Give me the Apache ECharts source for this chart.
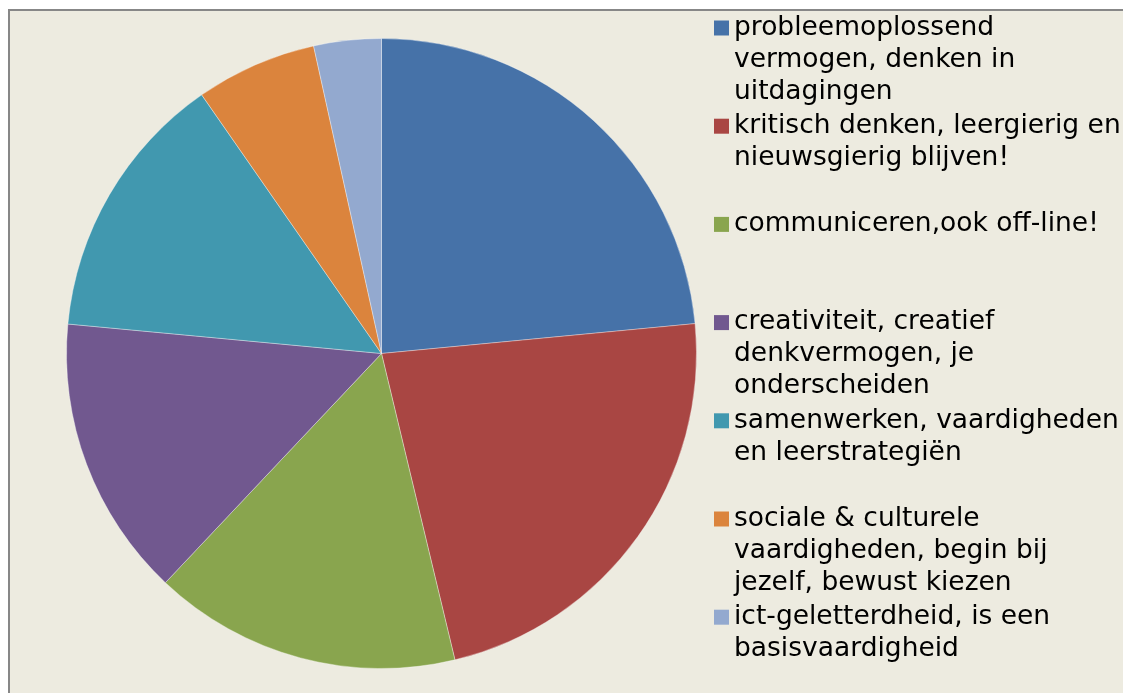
<!DOCTYPE html>
<html>
<head>
<meta charset="utf-8">
<script src="https://cdn.jsdelivr.net/npm/echarts@6/dist/echarts.min.js"></script>
<style>
html,body{margin:0;padding:0;background:#ffffff;}
#chart{width:1123px;height:693px;}
</style>
</head>
<body>
<div id="chart"></div>
<script>
// Data
var categories = [
  "probleemoplossend vermogen, denken in uitdagingen",
  "kritisch denken, leergierig en nieuwsgierig blijven!",
  "communiceren,ook off-line!",
  "creativiteit, creatief denkvermogen, je onderscheiden",
  "samenwerken, vaardigheden en leerstrategiën",
  "sociale & culturele vaardigheden, begin bij jezelf, bewust kiezen",
  "ict-geletterdheid, is een basisvaardigheid"
];
var legendLines = [
  ["probleemoplossend", "vermogen, denken in", "uitdagingen"],
  ["kritisch denken, leergierig en", "nieuwsgierig blijven!"],
  ["communiceren,ook off-line!"],
  ["creativiteit, creatief", "denkvermogen, je", "onderscheiden"],
  ["samenwerken, vaardigheden", "en leerstrategiën"],
  ["sociale & culturele", "vaardigheden, begin bij", "jezelf, bewust kiezen"],
  ["ict-geletterdheid, is een", "basisvaardigheid"]
];
var values = [23.49, 22.77, 15.78, 14.46, 13.84, 6.21, 3.46];
var colors = ["#4672A8", "#A94643", "#89A54E", "#71588F", "#4198AF", "#DB843D", "#93A9CF"];

var FONT = "DejaVu Sans";
var FS = 26.5;
var LH = 32;
var firstCenter = 28;
var step = 98.2;

var legends = categories.map(function (name, i) {
  var n = legendLines[i].length;
  var c = firstCenter + i * step;
  var pad = [];
  for (var k = 0; k < n - 1; k++) pad.push(' ');
  return {
    show: true,
    orient: 'vertical',
    left: 714,
    top: c - (2 * n - 1) * LH / 2,
    padding: 0,
    itemWidth: 15,
    itemHeight: 15,
    itemGap: 0,
    icon: 'rect',
    selectedMode: false,
    data: [name],
    itemStyle: { borderWidth: 0 },
    formatter: function () { return pad.concat(legendLines[i]).join('\n'); },
    textStyle: {
      fontFamily: FONT,
      fontSize: FS,
      lineHeight: LH,
      color: '#000000'
    }
  };
});

var chart = echarts.init(document.getElementById('chart'), null, { renderer: 'canvas' });
chart.setOption({
  backgroundColor: '#ffffff',
  animation: false,
  color: colors,
  graphic: [{
    type: 'rect',
    z: -10,
    silent: true,
    shape: { x: 9, y: 10, width: 1300, height: 900 },
    style: { fill: '#EDEBE0', stroke: '#878787', lineWidth: 2 }
  }],
  legend: legends,
  series: [{
    type: 'pie',
    center: [381.5, 353.5],
    radius: 315,
    startAngle: 90,
    clockwise: true,
    silent: true,
    label: { show: false },
    labelLine: { show: false },
    itemStyle: { borderColor: 'rgba(255,255,255,0.35)', borderWidth: 1 },
    data: categories.map(function (c, i) { return { name: c, value: values[i] }; })
  }]
});
</script>
</body>
</html>
